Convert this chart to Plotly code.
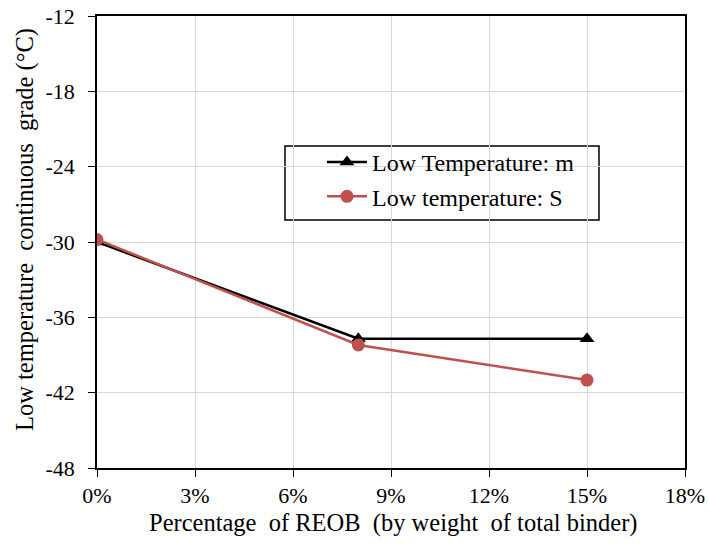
import plotly.graph_objects as go

reob_pct = [0.0, 0.08, 0.15]
low_temp_m = [-30.0, -37.7, -37.7]
low_temp_s = [-29.8, -38.2, -41.0]
y_ticks = [-48, -42, -36, -30, -24, -18, -12]
y_ticklabels = ["-48", "-42", "-36", "-30", "-24", "-18", "-12"]
x_ticks = [0, 0.03, 0.06, 0.09, 0.12, 0.15, 0.18]
x_ticklabels = ["0%", "3%", "6%", "9%", "12%", "15%", "18%"]

font_family = "Liberation Serif"
NB = "\u00a0"

fig = go.Figure()
fig.add_trace(go.Scatter(
    x=reob_pct, y=low_temp_m, mode="lines+markers",
    name="Low Temperature: m",
    line=dict(color="black", width=2.5),
    marker=dict(symbol="triangle-up", size=13, color="black"),
))
fig.add_trace(go.Scatter(
    x=reob_pct, y=low_temp_s, mode="lines+markers",
    name="Low temperature: S",
    line=dict(color="#C0504D", width=2.5),
    marker=dict(symbol="circle", size=13, color="#C0504D"),
))

fig.add_shape(type="rect", xref="paper", yref="paper",
              x0=(285 - 97) / 588, x1=(599 - 97) / 588,
              y0=(468 - 220) / 452, y1=(468 - 146) / 452,
              line=dict(color="black", width=1.5), fillcolor="white", layer="below")

fig.add_annotation(
    text=f"Low temperature {NB}continuous {NB}grade (°C)",
    xref="paper", yref="paper",
    x=(25 - 97) / 588, y=(468 - 230) / 452,
    xanchor="center", yanchor="middle", textangle=-90, showarrow=False,
    font=dict(family=font_family, size=24.5, color="black"),
)
fig.add_annotation(
    text=f"Percentage {NB}of REOB {NB}(by weight {NB}of total binder)",
    xref="paper", yref="paper",
    x=(393 - 97) / 588, y=(468 - 523) / 452,
    xanchor="center", yanchor="middle", showarrow=False,
    font=dict(family=font_family, size=24.5, color="black"),
)

fig.update_layout(
    width=709, height=544,
    margin=dict(l=97, r=24, t=16, b=76, autoexpand=False),
    paper_bgcolor="white", plot_bgcolor="white",
    font=dict(family=font_family, size=22, color="black"),
    showlegend=True,
    legend=dict(
        x=(322 - 97) / 588, y=(468 - 140) / 452, xanchor="left", yanchor="top",
        bgcolor="rgba(0,0,0,0)", borderwidth=0,
        font=dict(family=font_family, size=24, color="black"),
        tracegroupgap=0, itemwidth=40,
    ),
    xaxis=dict(
        range=[0, 0.18], tickvals=x_ticks, ticktext=x_ticklabels,
        tickfont=dict(family=font_family, size=22),
        showgrid=True, gridcolor="#D9D9D9", gridwidth=1,
        showline=True, linecolor="black", linewidth=1.5, mirror=True,
        ticks="outside", ticklen=7, tickcolor="black",
        zeroline=False, automargin=False,
    ),
    yaxis=dict(
        range=[-48, -12], tickvals=y_ticks, ticktext=y_ticklabels,
        tickfont=dict(family=font_family, size=22),
        showgrid=True, gridcolor="#D9D9D9", gridwidth=1,
        showline=True, linecolor="black", linewidth=1.5, mirror=True,
        ticks="outside", ticklen=7, tickcolor="black", ticklabelstandoff=9,
        zeroline=False, automargin=False,
    ),
)

fig.write_html("out.html")
